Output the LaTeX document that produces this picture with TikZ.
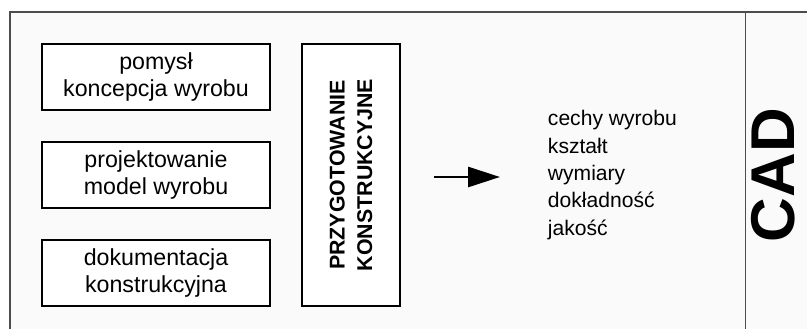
\documentclass[tikz,border=0pt]{standalone}
\usepackage{fontspec}
\setmainfont{Liberation Sans}
\usetikzlibrary{arrows.meta}
\begin{document}
\begin{tikzpicture}[
    stage/.style={draw, line width=0.9pt, fill=white, minimum width=5.7cm,
      minimum height=1.65cm, align=center, font=\fontsize{16.5}{19.5}\selectfont},
    phase/.style={draw, line width=0.9pt, fill=white, minimum width=6.55cm,
      minimum height=2.45cm, rotate=90, align=center,
      font=\bfseries\fontsize{15.2}{19.5}\selectfont}]
  \useasboundingbox (0,0) rectangle (20.175,8.225);
  \fill[black!2] (0.25,0) rectangle (20.175,7.925);
  \draw[black!70, line width=1.2pt] (0.25,0) -- (0.25,7.925) -- (20.175,7.925);
  \draw[black!70, line width=1.2pt] (18.64,0) -- (18.64,7.925);
  \draw
    (3.9,6.3) node[stage] (idea){pomysł\\koncepcja wyrobu}
    (3.9,3.85) node[stage] (model){projektowanie\\model wyrobu}
    (3.9,1.4) node[stage] (docs){dokumentacja\\konstrukcyjna}
    (8.775,3.85) node[phase] (prep){PRZYGOTOWANIE\\KONSTRUKCYJNE}
    (13.575,3.85) node[anchor=west, align=left,
      font=\fontsize{15}{19.5}\selectfont] (traits)
      {cechy wyrobu\\kształt\\wymiary\\dokładność\\jakość}
    (19.33,3.85) node[rotate=90, inner sep=0pt,
      font=\bfseries\fontsize{44}{50}\selectfont] (cad){CAD};
  \coordinate (from) at (10.85,3.8);
  \coordinate (to) at (12.5,3.8);
  \begin{scope}[-{Triangle[length=8mm, width=5mm]}, line width=2pt]
    \draw (from) to (to);
  \end{scope}
\end{tikzpicture}
\end{document}
